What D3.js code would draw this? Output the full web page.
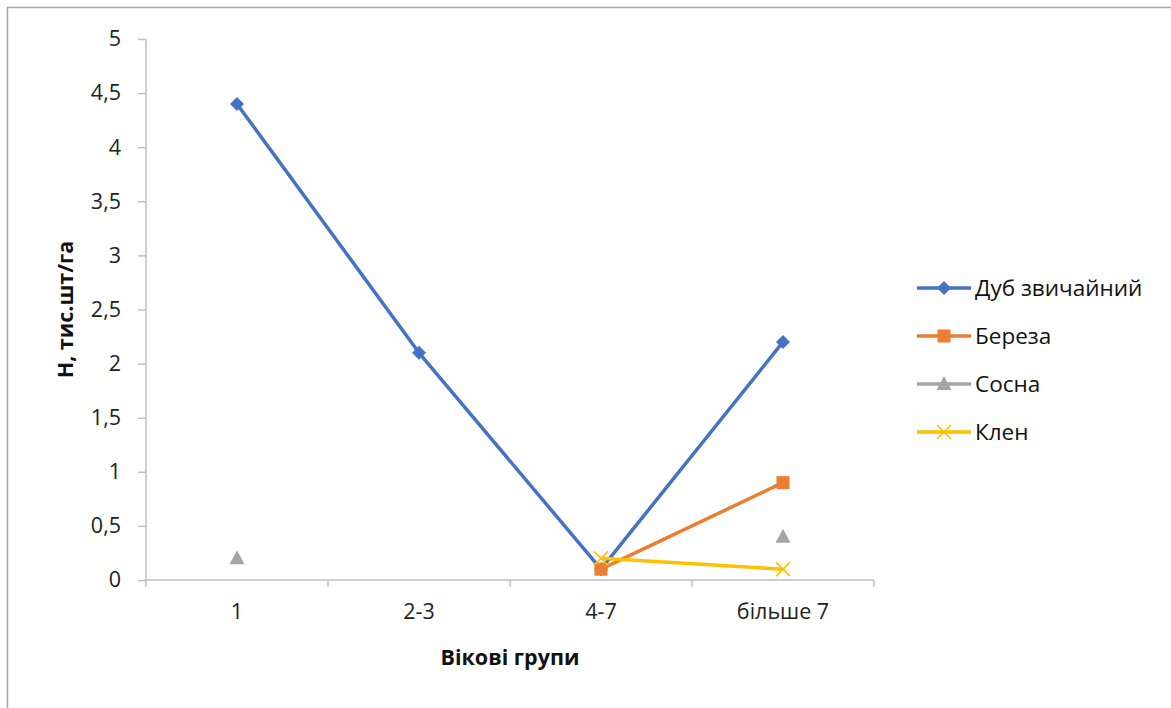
<!DOCTYPE html>
<html><head><meta charset="utf-8">
<script src="https://cdn.jsdelivr.net/npm/d3@7"></script>
<style>body{margin:0;background:#fff}svg{display:block;font-family:"Open Sans",sans-serif}</style>
</head><body>
<svg id="c" width="1171" height="708"></svg>
<script>
const categories = ["1", "2-3", "4-7", "більше 7"];
const seriesNames = ["Дуб звичайний", "Береза", "Сосна", "Клен"];
const dubValues = [4.4, 2.1, 0.1, 2.2];
const berezaValues = [null, null, 0.1, 0.9];
const sosnaValues = [0.2, null, null, 0.4];
const klenValues = [null, null, 0.2, 0.1];
const yTicks = [0, 0.5, 1, 1.5, 2, 2.5, 3, 3.5, 4, 4.5, 5];
const colors = ["#4472C4", "#ED7D31", "#A5A5A5", "#FFC000"];
const markers = ["diamond", "square", "triangle", "cross"];
const allValues = [dubValues, berezaValues, sosnaValues, klenValues];

const FS = 21.5;
const LFS = 22.5;
const svg = d3.select("#c");
svg.append("rect").attr("x", 7.5).attr("y", 7.5).attr("width", 1180).attr("height", 720)
  .attr("fill", "#fff").attr("stroke", "#A6A6A6").attr("stroke-width", 1.5);

const m = {l: 146, r: 874, t: 39, b: 580};
const x = d3.scaleBand().domain(categories).range([m.l, m.r]);
const y = d3.scaleLinear().domain([0, 5]).range([m.b, m.t]);
const fmt = v => String(v).replace(".", ",");

// y axis
const ya = svg.append("g").attr("transform", `translate(${m.l},0)`)
  .call(d3.axisLeft(y).tickValues(yTicks).tickFormat(fmt).tickSize(8).tickPadding(17));
ya.select(".domain").attr("stroke", "#BFBFBF").attr("stroke-width", 1.5).attr("d", `M0,${m.t}V${m.b}`);
ya.selectAll(".tick line").attr("stroke", "#BFBFBF").attr("stroke-width", 1.5);
ya.selectAll(".tick text").attr("font-size", FS).attr("fill", "#222").attr("font-family", "'Open Sans',sans-serif");

// x axis
const xa = svg.append("g").attr("transform", `translate(0,${m.b})`)
  .call(d3.axisBottom(x).tickSize(0).tickPadding(24));
xa.select(".domain").attr("stroke", "#BFBFBF").attr("stroke-width", 1.5).attr("d", `M${m.l},0H${m.r}`);
xa.selectAll(".tick text").attr("font-size", FS).attr("fill", "#222").attr("font-family", "'Open Sans',sans-serif");
const bounds = [m.l].concat(categories.map(c => x(c) + x.bandwidth()));
svg.append("g").selectAll("line").data(bounds).join("line")
  .attr("x1", d => d).attr("x2", d => d).attr("y1", m.b).attr("y2", m.b + 7)
  .attr("stroke", "#BFBFBF").attr("stroke-width", 1.5);

// titles
svg.append("text").attr("x", (m.l + m.r) / 2).attr("y", 665).attr("text-anchor", "middle")
  .attr("font-size", FS).attr("font-weight", "bold").attr("fill", "#111").text("Вікові групи");
svg.append("text").attr("transform", `translate(73,${(m.t + m.b) / 2}) rotate(-90)`).attr("text-anchor", "middle")
  .attr("font-size", FS).attr("font-weight", "bold").attr("fill", "#111").text("Н, тис.шт/га");

function drawMarker(g, type, cx, cy, color) {
  if (type === "diamond") {
    g.append("path").attr("d", `M${cx},${cy-7}L${cx+7},${cy}L${cx},${cy+7}L${cx-7},${cy}Z`).attr("fill", color);
  } else if (type === "square") {
    g.append("rect").attr("x", cx - 6.5).attr("y", cy - 6.5).attr("width", 13).attr("height", 13).attr("fill", color);
  } else if (type === "triangle") {
    g.append("path").attr("d", `M${cx},${cy-8}L${cx+7.5},${cy+6}L${cx-7.5},${cy+6}Z`).attr("fill", color);
  } else {
    g.append("path").attr("d", `M${cx-7},${cy-7}L${cx+7},${cy+7}M${cx+7},${cy-7}L${cx-7},${cy+7}`)
      .attr("stroke", color).attr("stroke-width", 1.6).attr("fill", "none");
  }
}

const cx = c => x(c) + x.bandwidth() / 2;
const line = d3.line().defined(d => d.v != null).x(d => cx(d.c)).y(d => y(d.v));
const plot = svg.append("g");
allValues.forEach((vals, i) => {
  const pts = categories.map((c, j) => ({c, v: vals[j]}));
  plot.append("path").datum(pts).attr("d", line).attr("fill", "none")
    .attr("stroke", colors[i]).attr("stroke-width", 3.5).attr("stroke-linejoin", "round");
});
allValues.forEach((vals, i) => {
  const g = plot.append("g");
  categories.forEach((c, j) => { if (vals[j] != null) drawMarker(g, markers[i], cx(c), y(vals[j]), colors[i]); });
});

// legend
const lg = svg.append("g");
seriesNames.forEach((n, i) => {
  const ly = 288 + i * 48;
  lg.append("line").attr("x1", 917).attr("x2", 971).attr("y1", ly).attr("y2", ly)
    .attr("stroke", colors[i]).attr("stroke-width", 3.5);
  drawMarker(lg, markers[i], 944, ly, colors[i]);
  lg.append("text").attr("x", 975).attr("y", ly + 8).attr("font-size", LFS).attr("fill", "#111").text(n);
});
</script>
</body></html>
